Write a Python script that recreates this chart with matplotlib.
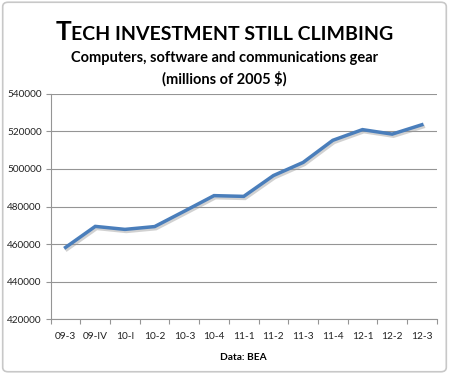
import numpy as np
import matplotlib
matplotlib.use("Agg")
import matplotlib.pyplot as plt
import matplotlib.patheffects as pe
from matplotlib.patches import FancyBboxPatch

quarters = ["09-3", "09-IV", "10-I", "10-2", "10-3", "10-4", "11-1",
            "11-2", "11-3", "11-4", "12-1", "12-2", "12-3"]
investment = [458200, 469400, 467800, 469300, 477500, 485800, 485400,
              496500, 503500, 515300, 521000, 518600, 523600]
y_ticks = [420000, 440000, 460000, 480000, 500000, 520000, 540000]

plt.rcParams["font.family"] = ["Lato", "DejaVu Sans"]

fig = plt.figure(figsize=(4.49, 3.74), dpi=100)
ax = fig.add_axes([0.113, 0.147, 0.8596, 0.6017])

# rounded chart frame, excel style
frame = FancyBboxPatch((0.006, 0.006), 0.988, 0.988, boxstyle="round,pad=0,rounding_size=0.012",
                       transform=fig.transFigure, fill=False, edgecolor="#c8c8c8", linewidth=1.2)
fig.patches.append(frame)

x = np.arange(len(quarters))
ax.plot(x, investment, color="#4a7ebb", linewidth=2.5, solid_joinstyle="miter",
        path_effects=[pe.SimpleLineShadow(offset=(1, -1.5), shadow_color="#9a9a9a", alpha=0.45),
                      pe.Normal()], zorder=3)

ax.set_xlim(-0.5, len(quarters) - 0.5)
ax.set_ylim(420000, 540000)
ax.set_yticks(y_ticks)
ax.set_yticklabels([str(v) for v in y_ticks])
ax.set_xticks(x)
ax.set_xticklabels(quarters)
ax.set_xticks(np.arange(len(quarters) + 1) - 0.5, minor=True)

ax.grid(axis="y", color="#959595", linewidth=0.8)
ax.set_axisbelow(True)
for side in ["top", "right"]:
    ax.spines[side].set_visible(False)
for side in ["left", "bottom"]:
    ax.spines[side].set_color("#959595")
    ax.spines[side].set_linewidth(0.8)

ax.tick_params(axis="x", which="major", length=0, pad=9, labelsize=7.3, labelcolor="#222222")
ax.tick_params(axis="x", which="minor", length=3.5, color="#959595", width=0.8)
ax.tick_params(axis="y", length=3.5, color="#959595", width=0.8, pad=3, labelsize=7.2,
               labelcolor="#222222")

ax.set_xlabel("Data: BEA", fontsize=7.3, fontweight="bold", labelpad=9)

# small-caps title made of two sizes
cx, ty = 0.5, 0.893
t1 = fig.text(0, ty, "T", fontsize=19, fontweight="bold", ha="left", va="baseline")
t2 = fig.text(0, ty, "ECH INVESTMENT STILL CLIMBING", fontsize=14, fontweight="bold",
              ha="left", va="baseline")
fig.canvas.draw()
r = fig.canvas.get_renderer()
w1 = t1.get_window_extent(r).width / fig.bbox.width
w2 = t2.get_window_extent(r).width / fig.bbox.width
x0 = cx - (w1 + w2) / 2
t1.set_x(x0)
t2.set_x(x0 + w1)

fig.text(0.5, 0.833, "Computers, software and communications gear", fontsize=10.5,
         fontweight="bold", ha="center", va="baseline")
fig.text(0.5, 0.776, "(millions of 2005 $)", fontsize=10.5, fontweight="bold",
         ha="center", va="baseline")

fig.savefig("out.png", dpi=100)
